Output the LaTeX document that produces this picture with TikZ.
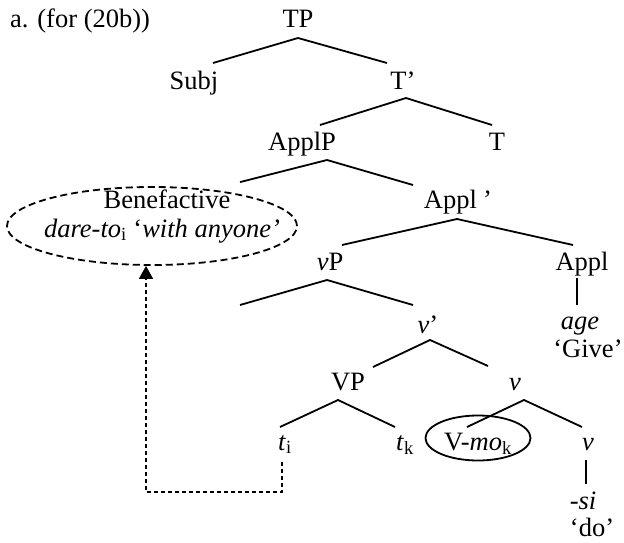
\documentclass[tikz,border=0pt]{standalone}
\usepackage{fontspec}
\setmainfont{Liberation Serif}
\usetikzlibrary{calc,shapes.geometric,arrows.meta}
\begin{document}
\begin{tikzpicture}[x=1pt,y=-1pt,
  lbl/.style={anchor=base,inner sep=0pt,font=\fontsize{26.5}{32}\selectfont},
  br/.style={line width=1.8pt},
  mv/.style={line width=1.5pt,dash pattern=on 4pt off 3pt},
  ell/.style={ellipse,inner sep=0pt}]
\useasboundingbox (0,0) rectangle (624,543);
% labels
\node[lbl,anchor=base west] (title) at (10,28) {a. (for (20b))};
\node[lbl] (TP) at (298,28) {TP};
\node[lbl] (Subj) at (194,89) {Subj};
\node[lbl] (Tbar) at (403,89) {T’};
\node[lbl] (ApplP) at (302,150) {ApplP};
\node[lbl] (T) at (497,150) {T};
\node[ell,draw,line width=1.8pt,dash pattern=on 7pt off 4pt,minimum width=290pt,minimum height=78pt] (bene) at (152,226) {};
\node[lbl] (bene1) at (167,208) {Benefactive};
\node[lbl] (bene2) at (162,237) {\textit{dare-to}\textsubscript{i} ‘\textit{with anyone’}};
\node[lbl] (Applbar) at (457,208) {Appl\,\textit{’}};
\node[lbl] (vP) at (330,270) {\textit{v}P};
\node[lbl] (Appl) at (582,270) {Appl};
\node[lbl] (age) at (580,329) {\textit{age}};
\node[lbl] (give) at (588,357) {‘Give’};
\coordinate (spec) at (240,305);
\node[lbl] (vbar) at (428,333) {\textit{v}’};
\node[lbl] (VP) at (348,390) {VP};
\node[lbl] (v) at (515,390) {\textit{v}};
\node[lbl] (ti) at (285,450) {\textit{t}\textsubscript{i}};
\node[lbl] (tk) at (405,450) {\textit{t}\textsubscript{k}};
\node[ell,draw,line width=1.8pt,minimum width=105pt,minimum height=45pt] (vmoell) at (478,438) {};
\node[lbl] (vmo) at (478,450) {V-\textit{mo}\textsubscript{k}};
\node[lbl] (v2) at (588,450) {\textit{v}};
\node[lbl] (si) at (583,509) {\textit{-si}};
\node[lbl] (do) at (592,536) {‘do’};
% branches
\draw[br] ($(Subj.base)+(19,-26)$) -- ($(TP.base)+(0,10)$) -- ($(Tbar.base)+(-16,-26)$);
\draw[br] ($(ApplP.base)+(18,-25)$) -- ($(Tbar.base)+(3,9)$) -- ($(T.base)+(-5,-25)$);
\draw[br] ($(bene.north)+(88,-4)$) -- ($(ApplP.base)+(25,10)$) -- ($(Applbar.base)+(-44,-23)$);
\draw[br] ($(vP.base)+(12,-25)$) -- ($(Applbar.base)+(0,11)$) -- ($(Appl.base)+(-9,-25)$);
\draw[br] ($(Appl.base)+(-5,8)$) -- ($(age.base)+(-3,-24)$);
\draw[br] (spec) -- ($(vP.base)+(-3,10)$) -- ($(vbar.base)+(-15,-28)$);
\draw[br] ($(VP.base)+(25,-23)$) -- ($(vbar.base)+(2,7)$) -- ($(v.base)+(-27,-24)$);
\draw[br] ($(ti.base)+(-5,-23)$) -- ($(VP.base)+(-10,10)$) -- ($(tk.base)+(-10,-23)$);
\draw[br] ($(vmoell.center)+(-11,-11)$) -- ($(v.base)+(9,10)$) -- ($(v2.base)+(-6,-23)$);
\draw[br] ($(v2.base)+(-2,10)$) -- ($(si.base)+(3,-25)$);
% movement
\draw[mv,-{Triangle[width=14pt,length=13pt]}] ($(ti.base)+(-3,12)$) -- ++(0,30) -| ($(bene.south)+(-6,0)$);
\end{tikzpicture}
\end{document}
